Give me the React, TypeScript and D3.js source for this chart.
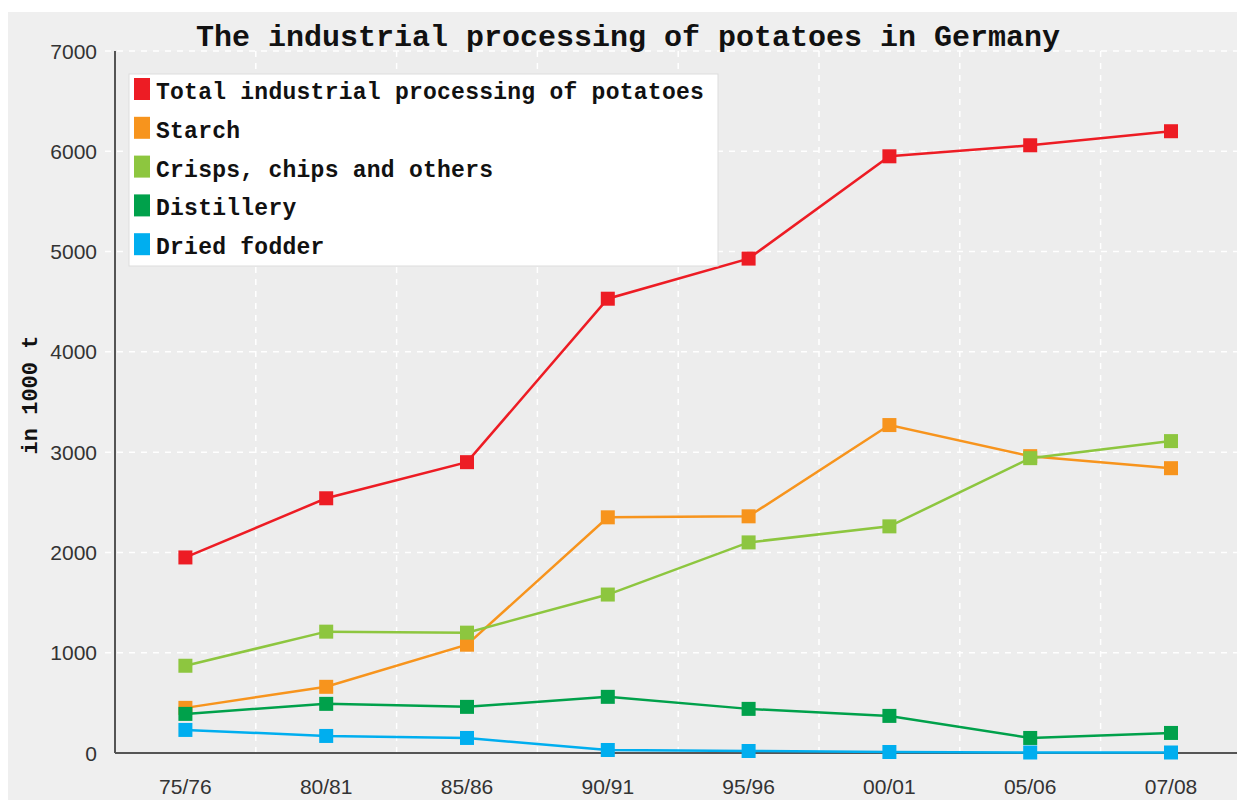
import React from "react";
import * as d3 from "d3";

const categories = ["75/76", "80/81", "85/86", "90/91", "95/96", "00/01", "05/06", "07/08"];
const total = [1950, 2540, 2900, 4530, 4930, 5950, 6060, 6200];
const starch = [450, 660, 1080, 2350, 2360, 3270, 2960, 2840];
const crisps = [870, 1210, 1200, 1580, 2100, 2260, 2940, 3110];
const distillery = [390, 490, 460, 560, 440, 370, 150, 200];
const driedFodder = [230, 170, 150, 30, 20, 10, 5, 5];
const yTicks = [0, 1000, 2000, 3000, 4000, 5000, 6000, 7000];

const series = [
  { name: "Total industrial processing of potatoes", color: "#ed1c24", values: total },
  { name: "Starch", color: "#f7941d", values: starch },
  { name: "Crisps, chips and others", color: "#8dc63f", values: crisps },
  { name: "Distillery", color: "#00a14b", values: distillery },
  { name: "Dried fodder", color: "#00aeef", values: driedFodder },
];

const W = 1237;
const H = 803;
const left = 115;
const top = 51;
const bottom = 753;
const mono = "'Liberation Mono', 'DejaVu Sans Mono', monospace";
const sans = "'Liberation Sans', Arial, sans-serif";

export default function App() {
  const x = d3.scaleBand().domain(categories).range([left, left + 8 * 140.8]);
  const y = d3.scaleLinear().domain([0, 7000]).range([bottom, top]);
  const cx = (c: string) => (x(c) as number) + x.bandwidth() / 2;

  const line = d3
    .line<number>()
    .x((_, i) => cx(categories[i]))
    .y((d) => y(d));

  // band boundaries -> vertical grid
  const vGrid = categories.slice(1).map((c) => x(c) as number);

  return (
    <svg width={W} height={H} style={{ position: "absolute", left: 0, top: 0 }}>
      <rect x={0} y={0} width={W} height={H} fill="#fff" />
      <rect x={8} y={12} width={W - 8} height={788} fill="#efefef" />
      <rect x={left} y={top} width={W - left} height={bottom - top} fill="#ededed" />

      {/* grid */}
      {yTicks.slice(1).map((t) => (
        <line key={"h" + t} x1={105} x2={W} y1={y(t)} y2={y(t)} stroke="#fff" strokeWidth={1.5} strokeDasharray="6,6" />
      ))}
      {vGrid.map((gx, i) => (
        <line key={"v" + i} x1={gx} x2={gx} y1={top} y2={bottom} stroke="#fff" strokeWidth={1.5} strokeDasharray="6,6" />
      ))}

      {/* axes */}
      <line x1={left} x2={left} y1={top} y2={bottom} stroke="#555" strokeWidth={2} />
      <line x1={left} x2={W} y1={bottom} y2={bottom} stroke="#555" strokeWidth={2} />
      {yTicks.map((t) => (
        <text key={"yl" + t} x={97} y={y(t)} dy="0.36em" textAnchor="end" fontFamily={sans} fontSize={21} fill="#333">
          {t}
        </text>
      ))}
      {categories.map((c) => (
        <text key={"xl" + c} x={cx(c)} y={786} dy="0.36em" textAnchor="middle" fontFamily={sans} fontSize={21} fill="#333">
          {c}
        </text>
      ))}
      <text
        transform={`translate(37,395) rotate(-90)`}
        textAnchor="middle"
        fontFamily={mono}
        fontWeight="bold"
        fontSize={22}
        fill="#111"
      >
        in 1000 t
      </text>

      {/* title */}
      <text x={628} y={46} textAnchor="middle" fontFamily={mono} fontWeight="bold" fontSize={30} fill="#111">
        The industrial processing of potatoes in Germany
      </text>

      {/* series */}
      {series.map((s) => (
        <g key={s.name}>
          <path d={line(s.values) || ""} fill="none" stroke={s.color} strokeWidth={2.5} />
          {s.values.map((v, i) => (
            <rect key={i} x={cx(categories[i]) - 7} y={y(v) - 7} width={14} height={14} fill={s.color} />
          ))}
        </g>
      ))}

      {/* legend */}
      <rect x={129} y={74} width={589} height={192} fill="#fff" stroke="#ddd" strokeWidth={1} />
      {series.map((s, i) => (
        <g key={"lg" + i} transform={`translate(134,${78 + i * 38.8})`}>
          <rect x={0} y={0} width={16} height={22} fill={s.color} />
          <text x={22} y={21} fontFamily={mono} fontWeight="bold" fontSize={23} letterSpacing={0.25} fill="#111">
            {s.name}
          </text>
        </g>
      ))}
    </svg>
  );
}
